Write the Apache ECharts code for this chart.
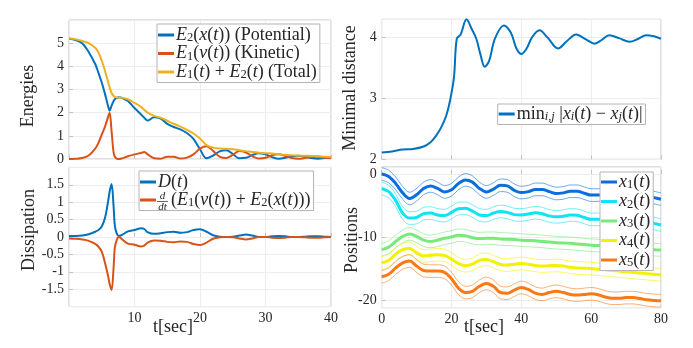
<!DOCTYPE html>
<html>
<head>
<meta charset="utf-8">
<script src="https://cdn.jsdelivr.net/npm/echarts@6/dist/echarts.min.js"></script>
<style>
  html, body { margin: 0; padding: 0; background: #fff; }
  #chart { width: 693px; height: 348px; }
</style>
</head>
<body>
<div id="chart"></div>
<script>
// energies and dissipation, t in seconds
const tE = [0, 1, 2, 3, 4, 4.5, 5, 5.5, 6, 6.2, 6.5, 6.8, 7, 7.3, 7.6, 8, 9, 10, 11, 11.5, 12, 13, 14, 15, 16, 17, 18, 19, 20, 21, 22, 23, 24, 25, 26, 27, 28, 29, 30, 31, 32, 33, 34, 35, 36, 37, 38, 39, 40];
const potential = [5.2, 5.13, 5.0, 4.62, 4.1, 3.72, 3.3, 2.8, 2.25, 2.08, 2.3, 2.5, 2.58, 2.64, 2.67, 2.65, 2.5, 2.2, 1.92, 1.78, 1.66, 1.8, 1.74, 1.52, 1.38, 1.28, 1.12, 0.87, 0.42, 0.03, 0.15, 0.33, 0.38, 0.22, 0.03, 0.05, 0.17, 0.25, 0.2, 0.08, 0.01, 0.05, 0.12, 0.14, 0.1, 0.04, 0.01, 0.04, 0.07];
const kinetic = [0, 0.01, 0.04, 0.15, 0.45, 0.7, 1.05, 1.4, 1.85, 2.0, 1.2, 0.3, 0.1, 0.02, 0.0, 0.02, 0.12, 0.2, 0.26, 0.3, 0.2, 0.03, 0.01, 0.1, 0.1, 0.02, 0.06, 0.2, 0.45, 0.55, 0.35, 0.1, 0.04, 0.18, 0.34, 0.28, 0.12, 0.02, 0.05, 0.16, 0.2, 0.13, 0.04, 0.01, 0.04, 0.09, 0.1, 0.06, 0.03];
const total = [5.2, 5.17, 5.1, 5.0, 4.8, 4.6, 4.25, 3.8, 3.3, 3.1, 2.85, 2.72, 2.68, 2.66, 2.66, 2.65, 2.58, 2.42, 2.25, 2.12, 2.0, 1.86, 1.78, 1.65, 1.52, 1.4, 1.26, 1.1, 0.88, 0.6, 0.49, 0.45, 0.44, 0.42, 0.38, 0.34, 0.3, 0.27, 0.25, 0.24, 0.21, 0.18, 0.16, 0.15, 0.14, 0.13, 0.12, 0.1, 0.09];
const dissipation = [0.03, 0.03, 0.04, 0.08, 0.15, 0.2, 0.3, 0.55, 1.06, 1.3, 1.52, 0.9, 0.32, 0.1, 0.03, 0.05, 0.16, 0.2, 0.25, 0.23, 0.14, 0.09, 0.11, 0.14, 0.15, 0.12, 0.14, 0.2, 0.22, 0.15, 0.05, 0.01, 0.0, 0.01, 0.04, 0.07, 0.04, 0.0, 0.0, 0.02, 0.03, 0.02, 0.0, 0.0, 0.01, 0.02, 0.02, 0.01, 0.0];
const energyRate = [-0.04, -0.05, -0.07, -0.11, -0.2, -0.28, -0.42, -0.75, -1.15, -1.35, -1.52, -0.9, -0.3, -0.08, 0.0, -0.05, -0.19, -0.22, -0.27, -0.25, -0.16, -0.1, -0.11, -0.14, -0.15, -0.13, -0.14, -0.2, -0.23, -0.16, -0.05, -0.01, 0.0, -0.01, -0.04, -0.07, -0.04, 0.0, 0.0, -0.02, -0.03, -0.02, 0.0, 0.0, -0.01, -0.02, -0.02, -0.01, 0.0];

// minimal distance
const tD = [0, 3, 6, 9, 12, 14, 15.5, 17, 18.5, 19.6, 20.7, 21.5, 22.6, 24.3, 25.7, 27.1, 28.3, 29.5, 30.8, 32.4, 35, 37, 38.6, 40, 41.5, 43, 45.2, 47.5, 50.5, 53, 55.7, 58.5, 61, 63, 65.2, 68, 71, 73.5, 75.7, 78, 80];
const minDist = [2.11, 2.13, 2.16, 2.17, 2.21, 2.28, 2.38, 2.52, 2.72, 2.97, 3.35, 3.98, 4.05, 4.3, 4.15, 3.98, 3.72, 3.52, 3.62, 3.98, 4.2, 4.08, 3.82, 3.73, 3.82, 4.0, 4.12, 4.0, 3.82, 3.94, 4.05, 3.97, 3.9, 3.96, 4.04, 3.99, 3.93, 3.98, 4.04, 4.02, 3.98];

// positions of the 5 agents
const tP = [0, 2, 4, 6, 8, 10, 12, 14, 16, 18, 20, 22, 24, 26, 28, 30, 32, 34, 36, 38, 40, 42, 44, 46, 48, 50, 52, 54, 56, 58, 60, 62, 64, 66, 68, 70, 72, 74, 76, 78, 80];
const x1 = [0, -0.4, -1.5, -3.0, -3.9, -3.3, -2.3, -1.9, -2.3, -2.85, -2.5, -1.5, -0.95, -1.3, -2.3, -2.85, -2.4, -1.8, -1.9, -2.6, -2.95, -2.8, -2.45, -2.45, -2.8, -3.1, -3.0, -2.75, -2.75, -3.05, -3.35, -3.35, -3.15, -3.1, -3.35, -3.6, -3.6, -3.45, -3.5, -3.75, -4.0];
const x2 = [-2.3, -2.8, -4.2, -6.2, -7.0, -6.9, -6.3, -6.2, -6.5, -6.6, -6.1, -5.5, -5.45, -5.9, -6.5, -6.6, -6.2, -5.95, -6.1, -6.45, -6.5, -6.35, -6.15, -6.3, -6.65, -6.8, -6.7, -6.5, -6.55, -6.9, -7.2, -7.2, -7.1, -7.2, -7.4, -7.55, -7.55, -7.5, -7.6, -7.85, -8.1];
const x3 = [-12.0, -11.6, -10.7, -9.9, -9.5, -9.9, -10.5, -10.7, -10.5, -10.2, -10.0, -9.7, -9.8, -10.1, -10.25, -10.2, -10.2, -10.3, -10.35, -10.4, -10.5, -10.55, -10.6, -10.7, -10.8, -10.9, -10.95, -11.0, -11.1, -11.2, -11.3, -11.35, -11.45, -11.5, -11.6, -11.7, -11.75, -11.85, -11.9, -12.0, -12.05];
const x4 = [-14.1, -13.7, -12.7, -12.0, -11.8, -12.5, -13.0, -12.9, -12.8, -12.9, -13.5, -14.2, -14.55, -14.3, -13.7, -13.55, -13.9, -14.35, -14.45, -14.3, -14.2, -14.3, -14.5, -14.6, -14.55, -14.5, -14.6, -14.8, -14.9, -14.95, -15.0, -15.1, -15.2, -15.3, -15.4, -15.5, -15.6, -15.7, -15.8, -15.9, -16.0];
const x5 = [-16.3, -15.9, -14.9, -14.1, -13.8, -14.6, -15.3, -15.4, -15.4, -15.6, -16.6, -18.1, -18.8, -18.6, -17.8, -17.35, -17.8, -18.8, -18.9, -18.4, -18.0, -18.3, -18.9, -19.1, -18.8, -18.6, -18.8, -19.1, -19.2, -19.1, -19.0, -19.15, -19.5, -19.7, -19.7, -19.6, -19.6, -19.75, -19.95, -20.05, -20.1];
const agentRadius = 1; // thin lines at x_i +/- radius

const agentNames = ['x1', 'x2', 'x3', 'x4', 'x5'];
const agentColors = ['#0a6fdd', '#12e3f2', '#78ea78', '#f2f200', '#fb7812'];
const agentPaths = [x1, x2, x3, x4, x5];

const FONT = 'Liberation Serif';
const INK = '#262626';
const FRAME = '#c2c2c2';
const GRID = '#ededed';

const pairs = (ts, vs) => ts.map((t, i) => [t, vs[i]]);

const chart = echarts.init(document.getElementById('chart'));

const tickLabel = { color: INK, fontFamily: FONT, fontSize: 14, margin: 5 };

function xAxis(gi, max, labels, hideZero) {
  return {
    type: 'value', gridIndex: gi, min: 0, max: max, interval: max / 4,
    axisLine: { show: false },
    axisTick: { inside: true, length: 4, lineStyle: { color: FRAME } },
    splitLine: { lineStyle: { color: GRID } },
    axisLabel: Object.assign({ show: labels, showMinLabel: !hideZero }, tickLabel)
  };
}
function yAxis(gi, min, max, interval, labelOpts, extra) {
  return Object.assign({
    type: 'value', gridIndex: gi, min: min, max: max, interval: interval,
    axisLine: { show: false },
    axisTick: { inside: true, length: 4, lineStyle: { color: FRAME } },
    splitLine: { lineStyle: { color: GRID } },
    axisLabel: Object.assign({}, tickLabel, labelOpts)
  }, extra || {});
}

const rich = {
  n: { fontFamily: FONT, fontSize: 18, lineHeight: 19, color: INK },
  i: { fontFamily: FONT, fontSize: 18, lineHeight: 19, fontStyle: 'italic', color: INK },
  s: { fontFamily: FONT, fontSize: 12.5, lineHeight: 8, verticalAlign: 'bottom', color: INK },
  si: { fontFamily: FONT, fontSize: 12.5, lineHeight: 8, fontStyle: 'italic', verticalAlign: 'bottom', color: INK },
  sp: { width: 13 }
};
const legendText = {
  pot: '{i|E}{s|2}{n|(}{i|x}{n|(}{i|t}{n|)) (Potential)}',
  kin: '{i|E}{s|1}{n|(}{i|v}{n|(}{i|t}{n|)) (Kinetic)}',
  tot: '{i|E}{s|1}{n|(}{i|t}{n|) + }{i|E}{s|2}{n|(}{i|t}{n|) (Total)}',
  diss: '{i|D}{n|(}{i|t}{n|)}',
  rate: '{sp|}{n|(}{i|E}{s|1}{n|(}{i|v}{n|(}{i|t}{n|)) + }{i|E}{s|2}{n|(}{i|x}{n|(}{i|t}{n|)))}',
  mind: '{n|min}{si|i,j}{n| |}{i|x}{si|i}{n|(}{i|t}{n|) − }{i|x}{si|j}{n|(}{i|t}{n|)|}',
  x1: '{i|x}{s|1}{n|(}{i|t}{n|)}',
  x2: '{i|x}{s|2}{n|(}{i|t}{n|)}',
  x3: '{i|x}{s|3}{n|(}{i|t}{n|)}',
  x4: '{i|x}{s|4}{n|(}{i|t}{n|)}',
  x5: '{i|x}{s|5}{n|(}{i|t}{n|)}'
};
function legend(names, left, top, gap, pad) {
  return {
    data: names, orient: 'vertical', left: left, top: top,
    padding: pad, itemGap: gap, itemWidth: 16, itemHeight: 3, icon: 'rect',
    backgroundColor: '#fff', borderColor: '#b4b4b4', borderWidth: 1, borderRadius: 0,
    selectedMode: false,
    formatter: name => legendText[name],
    textStyle: { rich: rich, padding: [0, 0, 0, -3] }
  };
}

function line(name, gi, data, color, width, extra) {
  return Object.assign({
    name: name, type: 'line', xAxisIndex: gi, yAxisIndex: gi, data: data,
    showSymbol: false, symbol: 'none', smooth: 0.35, color: color,
    lineStyle: { color: color, width: width }, animation: false
  }, extra || {});
}

const series = [
  line('pot', 0, pairs(tE, potential), '#0072BD', 2),
  line('kin', 0, pairs(tE, kinetic), '#D95319', 2),
  line('tot', 0, pairs(tE, total), '#EDB120', 2),
  line('diss', 1, pairs(tE, dissipation), '#0072BD', 2),
  line('rate', 1, pairs(tE, energyRate), '#D95319', 2),
  line('mind', 2, pairs(tD, minDist), '#0072BD', 2)
];
agentPaths.forEach((xs, k) => {
  const c = agentColors[k];
  const thin = { silent: true, lineStyle: { color: c, width: 0.8, opacity: 0.75 } };
  series.push(line('', 3, pairs(tP, xs.map(v => v + agentRadius)), c, 0.8, thin));
  series.push(line('', 3, pairs(tP, xs.map(v => v - agentRadius)), c, 0.8, thin));
});
agentPaths.forEach((xs, k) => {
  series.push(line(agentNames[k], 3, pairs(tP, xs), agentColors[k], 3));
});

function vlabel(text, x, y) {
  return { type: 'text', x: x, y: y, rotation: Math.PI / 2,
    style: { text: text, fontFamily: FONT, fontSize: 18, fill: INK, align: 'center', verticalAlign: 'middle' } };
}
function tlabel(x, y) {
  return { type: 'text', x: x, y: y,
    style: { text: 't[sec]', fontFamily: FONT, fontSize: 18, fill: INK, align: 'center', verticalAlign: 'middle' } };
}

const option = {
  animation: false,
  grid: [
    { left: 69, top: 20, width: 262, height: 139, show: true, borderColor: FRAME, borderWidth: 1 },
    { left: 69, top: 167.4, width: 262, height: 139.2, show: true, borderColor: FRAME, borderWidth: 1 },
    { left: 381.7, top: 19.3, width: 279.3, height: 140, show: true, borderColor: FRAME, borderWidth: 1 },
    { left: 381.7, top: 167, width: 279.3, height: 140.7, show: true, borderColor: FRAME, borderWidth: 1 }
  ],
  xAxis: [
    xAxis(0, 40, false, true),
    xAxis(1, 40, true, true),
    xAxis(2, 80, false, false),
    xAxis(3, 80, true, false)
  ],
  yAxis: [
    yAxis(0, 0, 6, 1, { showMaxLabel: false }),
    yAxis(1, -2, 2, 0.5, { showMaxLabel: false, showMinLabel: false }),
    yAxis(2, 2, 4.3, 1, { showMaxLabel: false }),
    yAxis(3, -21.2, 1.1, null, { showMaxLabel: false, showMinLabel: false }, { splitNumber: 2 })
  ],
  legend: [
    legend(['pot', 'kin', 'tot'], 157, 24, 0, [2, 3, 1, 1]),
    legend(['diss', 'rate'], 139, 171, 0, [2, 3, 1, 1]),
    legend(['mind'], 497.7, 104, 0, [1, 3, 1, 1]),
    legend(agentNames, 600, 172, 1, [1, 3, 1, 1])
  ],
  series: series,
  graphic: [
    vlabel('Energies', 28, 96),
    vlabel('Dissipation', 29, 230),
    vlabel('Minimal distance', 350, 88),
    vlabel('Positions', 352, 240),
    tlabel(173, 327),
    tlabel(484, 327),
    { type: 'group', x: 157, y: 201.5, z: 100, children: [
      { type: 'text', x: 5.5, y: -5, z: 100, style: { text: 'd', fontFamily: FONT, fontSize: 11, fontStyle: 'italic', fill: INK, align: 'center', verticalAlign: 'middle' } },
      { type: 'line', z: 100, shape: { x1: 0, y1: 0, x2: 11, y2: 0 }, style: { stroke: INK, lineWidth: 0.7 } },
      { type: 'text', x: 5.5, y: 5.5, z: 100, style: { text: 'dt', fontFamily: FONT, fontSize: 11, fontStyle: 'italic', fill: INK, align: 'center', verticalAlign: 'middle' } }
    ] }
  ]
};

chart.setOption(option);
window.addEventListener('resize', () => chart.resize());
</script>
</body>
</html>
